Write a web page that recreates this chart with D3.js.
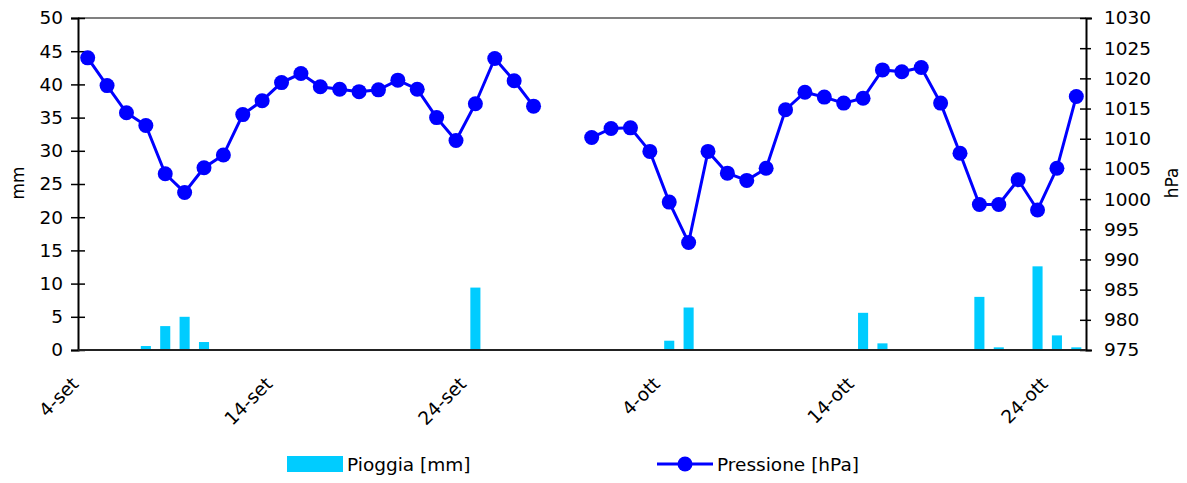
<!DOCTYPE html>
<html>
<head>
<meta charset="utf-8">
<script src="https://cdn.jsdelivr.net/npm/d3@7"></script>
<style>
 body { margin: 0; background: #fff; }
 svg text { font-family: "DejaVu Sans", Verdana, sans-serif; fill: #000; }
</style>
</head>
<body>
<svg width="1187" height="483"></svg>
<script>
// categories (days)
var days = ["4-set", "5-set", "6-set", "7-set", "8-set", "9-set", "10-set", "11-set", "12-set", "13-set",
 "14-set", "15-set", "16-set", "17-set", "18-set", "19-set", "20-set", "21-set", "22-set", "23-set",
 "24-set", "25-set", "26-set", "27-set", "28-set", "29-set", "30-set",
 "1-ott", "2-ott", "3-ott", "4-ott", "5-ott", "6-ott", "7-ott", "8-ott", "9-ott", "10-ott",
 "11-ott", "12-ott", "13-ott", "14-ott", "15-ott", "16-ott", "17-ott", "18-ott", "19-ott", "20-ott",
 "21-ott", "22-ott", "23-ott", "24-ott", "25-ott"];

// rain, mm
var rain = [0, 0, 0, 0.6, 3.6, 5.0, 1.2, 0, 0, 0,
 0, 0, 0, 0, 0, 0, 0, 0, 0, 0,
 9.4, 0, 0, 0, 0, 0, 0,
 0, 0, 0, 1.4, 6.4, 0, 0, 0, 0, 0,
 0, 0, 0, 5.6, 1.0, 0, 0, 0, 0, 8.0,
 0.4, 0, 12.6, 2.2, 0.4];

// pressure, hPa (null = missing)
var pressure = [1023.4, 1018.8, 1014.3, 1012.2, 1004.2, 1001.1, 1005.2, 1007.3, 1014.0, 1016.3,
 1019.3, 1020.8, 1018.6, 1018.2, 1017.8, 1018.1, 1019.7, 1018.2, 1013.5, 1009.7,
 1015.8, 1023.3, 1019.6, 1015.4, null, null, 1010.2,
 1011.7, 1011.8, 1007.9, 999.5, 992.8, 1007.9, 1004.3, 1003.1, 1005.1, 1014.8,
 1017.7, 1016.9, 1015.9, 1016.7, 1021.4, 1021.1, 1021.8, 1015.9, 1007.6, 999.1,
 999.1, 1003.2, 998.2, 1005.1, 1017.0];

var xLabels = ["4-set", "14-set", "24-set", "4-ott", "14-ott", "24-ott"];

var rainColor = "#00CCFF";
var pressColor = "#0000FF";

var svg = d3.select("svg");
var plotL = 78, plotR = 1086, plotT = 18, plotB = 350;

var x = d3.scaleBand().domain(days).range([plotL, plotR]).padding(0);
var yL = d3.scaleLinear().domain([0, 50]).range([plotB, plotT]);
var yR = d3.scaleLinear().domain([975, 1030]).range([plotB, plotT]);
var cx = function(d) { return x(d) + x.bandwidth() / 2; };

// top border
svg.append("line")
 .attr("x1", plotL).attr("x2", plotR)
 .attr("y1", plotT).attr("y2", plotT)
 .attr("stroke", "#808080").attr("stroke-width", 2);

// bars
var barW = x.bandwidth() * 0.52;
svg.selectAll(".bar")
 .data(days)
 .enter()
 .append("rect")
 .attr("class", "bar")
 .attr("x", function(d) { return cx(d) - barW / 2; })
 .attr("width", barW)
 .attr("y", function(d, i) { return yL(rain[i]); })
 .attr("height", function(d, i) { return plotB - yL(rain[i]); })
 .attr("fill", rainColor);

// left axis
var gL = svg.append("g")
 .attr("transform", "translate(" + plotL + ",0)")
 .call(d3.axisLeft(yL).tickValues(d3.range(0, 51, 5)).tickSize(7).tickPadding(8));
gL.select(".domain").attr("stroke", "#000").attr("stroke-width", 2);
gL.selectAll(".tick line").attr("x2", -7).attr("x1", 7).attr("stroke", "#000").attr("stroke-width", 1.5);
gL.selectAll(".tick text").attr("font-size", "18.5px").attr("font-family", "DejaVu Sans").attr("fill", "#000");

// right axis
var gR = svg.append("g")
 .attr("transform", "translate(" + plotR + ",0)")
 .call(d3.axisRight(yR).tickValues(d3.range(975, 1031, 5)).tickFormat(d3.format("d")).tickSize(6).tickPadding(12));
gR.select(".domain").attr("stroke", "#000").attr("stroke-width", 2);
gR.selectAll(".tick line").attr("x1", -6).attr("x2", 5).attr("stroke", "#000").attr("stroke-width", 1.5);
gR.selectAll(".tick text").attr("font-size", "18.5px").attr("font-family", "DejaVu Sans").attr("fill", "#000");

// bottom axis line
svg.append("line")
 .attr("x1", plotL).attr("x2", plotR)
 .attr("y1", plotB).attr("y2", plotB)
 .attr("stroke", "#222").attr("stroke-width", 2);

// x labels
svg.selectAll(".xlab")
 .data(xLabels)
 .enter()
 .append("text")
 .attr("class", "xlab")
 .attr("transform", function(d) { return "translate(" + (cx(d) - 8) + ",385) rotate(-45)"; })
 .attr("text-anchor", "end")
 .attr("font-size", "18.5px")
 .text(function(d) { return d; });

// pressure line
var pts = days.map(function(d, i) { return {day: d, v: pressure[i]}; });
var line = d3.line()
 .defined(function(d) { return d.v != null; })
 .x(function(d) { return cx(d.day); })
 .y(function(d) { return yR(d.v); });

svg.append("path")
 .datum(pts)
 .attr("d", line)
 .attr("fill", "none")
 .attr("stroke", pressColor)
 .attr("stroke-width", 3);

svg.selectAll(".dot")
 .data(pts.filter(function(d) { return d.v != null; }))
 .enter()
 .append("circle")
 .attr("class", "dot")
 .attr("cx", function(d) { return cx(d.day); })
 .attr("cy", function(d) { return yR(d.v); })
 .attr("r", 7.5)
 .attr("fill", pressColor);

// axis titles
svg.append("text")
 .attr("transform", "translate(24,183) rotate(-90)")
 .attr("text-anchor", "middle")
 .attr("font-size", "17px")
 .text("mm");

svg.append("text")
 .attr("transform", "translate(1178,183) rotate(-90)")
 .attr("text-anchor", "middle")
 .attr("font-size", "17px")
 .text("hPa");

// legend
svg.append("rect")
 .attr("x", 287).attr("y", 456).attr("width", 56).attr("height", 16)
 .attr("fill", rainColor);
svg.append("text")
 .attr("x", 347).attr("y", 471)
 .attr("font-size", "18.5px")
 .text("Pioggia [mm]");

svg.append("line")
 .attr("x1", 657).attr("x2", 713).attr("y1", 464).attr("y2", 464)
 .attr("stroke", pressColor).attr("stroke-width", 3);
svg.append("circle")
 .attr("cx", 685).attr("cy", 464).attr("r", 7.5)
 .attr("fill", pressColor);
svg.append("text")
 .attr("x", 717).attr("y", 471)
 .attr("font-size", "18.5px")
 .text("Pressione [hPa]");
</script>
</body>
</html>
